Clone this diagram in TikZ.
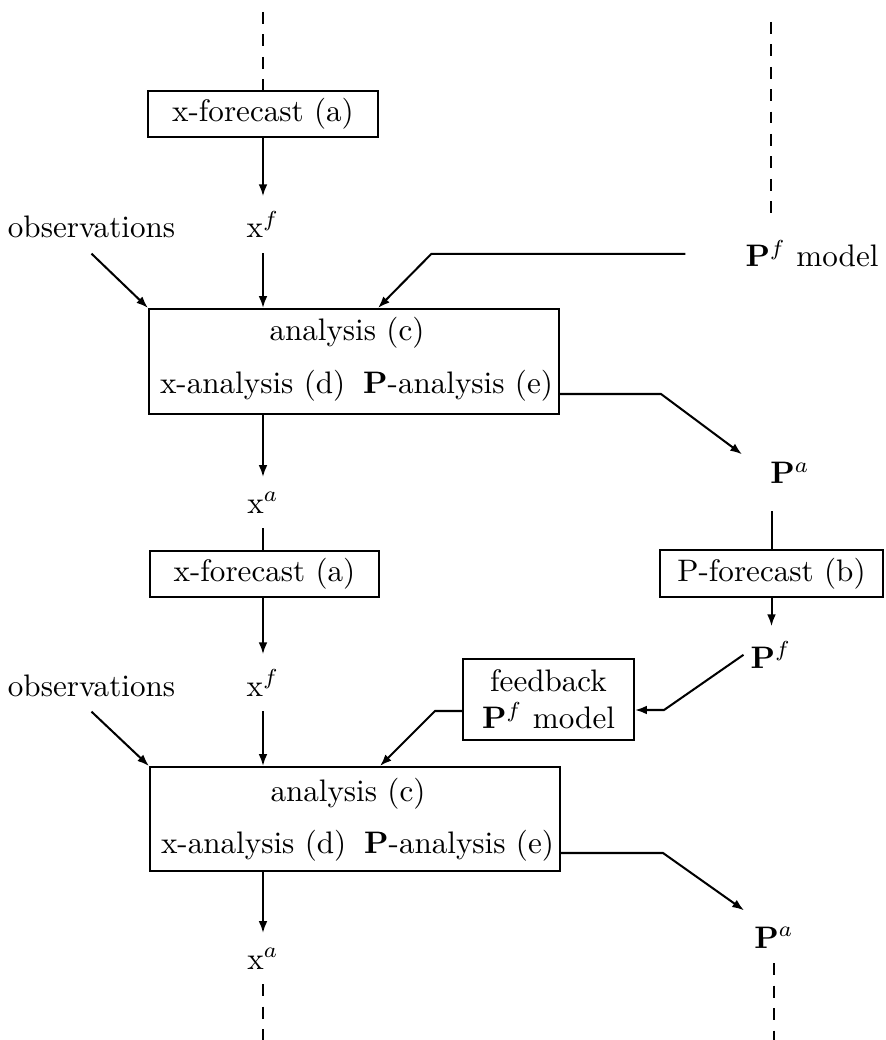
\documentclass[tikz,border=0pt]{standalone}
\usetikzlibrary{arrows.meta,fit,calc}
\begin{document}
\begin{tikzpicture}[x=0.3215pt,y=-0.3215pt,
  line width=0.65pt,
  box/.style={draw, line width=0.65pt, inner sep=0pt},
  wh/.style 2 args={minimum width={#1*0.3215pt}, minimum height={#2*0.3215pt}},
  lbl/.style={inner xsep=2pt, inner ysep=4.6pt, anchor=base},
  txt/.style={inner sep=0pt, anchor=base},
  arr/.style={-{Latex[length=3.8pt,width=2.8pt]}},
  dsh/.style={dash pattern=on 3.8pt off 3.4pt}]
\useasboundingbox (0,0) rectangle (885,1040);

% free ends of the dashed lines
\coordinate (topL) at (263,12);
\coordinate (topR) at (771,22);
\coordinate (botL) at (263,1040);
\coordinate (botR) at (774,1040);

% boxes
\node[box, wh={230}{46}] (xfc1) at (263,114) {x-forecast (a)};
\node[box, fit={(149,309) (559,414)}] (anA) {};
\node[txt] (anAc) at (347,341) {analysis (c)};
\node[txt, anchor=base west] (anAd) at (159,394) {x-analysis (d)};
\node[txt, anchor=base east] (anAe) at (554,394) {$\mathbf{P}$-analysis (e)};

\node[box, wh={229}{46}] (xfc2) at (264.5,574) {x-forecast (a)};
\node[box, wh={223}{47}] (pfc) at (771.5,573.5) {P-forecast (b)};
\node[box, wh={171}{81}, align=center] (fbk) at (548.5,699.5) {feedback\\$\mathbf{P}^f$ model};

\node[box, fit={(150,767) (560,871)}] (anB) {};
\node[txt] (anBc) at (348,801) {analysis (c)};
\node[txt, anchor=base west] (anBd) at (160,853) {x-analysis (d)};
\node[txt, anchor=base east] (anBe) at (555,853) {$\mathbf{P}$-analysis (e)};

% labels
\node[lbl] (obs1) at (91.5,238) {observations};
\node[lbl] (xf1) at (263,238) {$\mathrm{x}^f$};
\node[lbl] (pfm) at (812,267) {$\mathbf{P}^f$ model};
\node[lbl] (xa1) at (263,513) {$\mathrm{x}^a$};
\node[lbl] (pa1) at (790,484) {$\mathbf{P}^a$};
\node[lbl] (pf2) at (771,668) {$\mathbf{P}^f$};
\node[lbl] (obs2) at (91.5,696) {observations};
\node[lbl] (xf2) at (263,696) {$\mathrm{x}^f$};
\node[lbl] (xa2) at (263,969) {$\mathrm{x}^a$};
\node[lbl] (pa2) at (774,948) {$\mathbf{P}^a$};

% connectors, first cycle
\draw[dsh] (topL) -- (topL |- xfc1.north);
\draw[arr] (xf1 |- xfc1.south) -- (xf1.north);
\draw[arr] (xf1.south) -- (xf1.south |- anA.north);
\draw[arr] (obs1.south) -- (anA.north west);
\draw[dsh, shorten >=2pt] (topR) -- (topR |- pfm.north);
\draw[arr] ($(pfm.west)+(-53,0)$) -- ($(pfm.west)+(-307,0)$) -- ($(anA.north west)+(230,0)$);
\draw[arr] (xa1 |- anA.south) -- (xa1.north);
\draw (xa1.south) -- (xa1.south |- xfc2.north);
\draw[arr] (anA.east |- anAe.base) -- ++(101,0) -- ($(pa1.west)+(-21,-19)$);
\draw ($(pa1.south -| pfc.north)+(0,12)$) -- (pfc.north);
\draw[arr] (pfc.south) -- (pfc.south |- pf2.north);

% second cycle
\draw[arr] (xf2 |- xfc2.south) -- (xf2.north);
\draw[arr] (xf2.south) -- (xf2.south |- anB.north);
\draw[arr] (obs2.south) -- (anB.north west);
\draw[arr] (pf2.west) -- ($(fbk.east)+(29,10.5)$) -- ($(fbk.east)+(0,10.5)$);
\draw[arr] ($(fbk.west)+(0,11.5)$) -- ++(-27,0) -- ($(anB.north west)+(231,0)$);
\draw[arr] (xa2 |- anB.south) -- (xa2.north);
\draw[dsh] (xa2.south) -- (botL);
\draw[arr] (anB.east |- anBe.base) -- ++(102,0) -- ($(pa2.west)+(-3,-27)$);
\draw[dsh] (pa2.south) -- (botR);
\end{tikzpicture}
\end{document}
